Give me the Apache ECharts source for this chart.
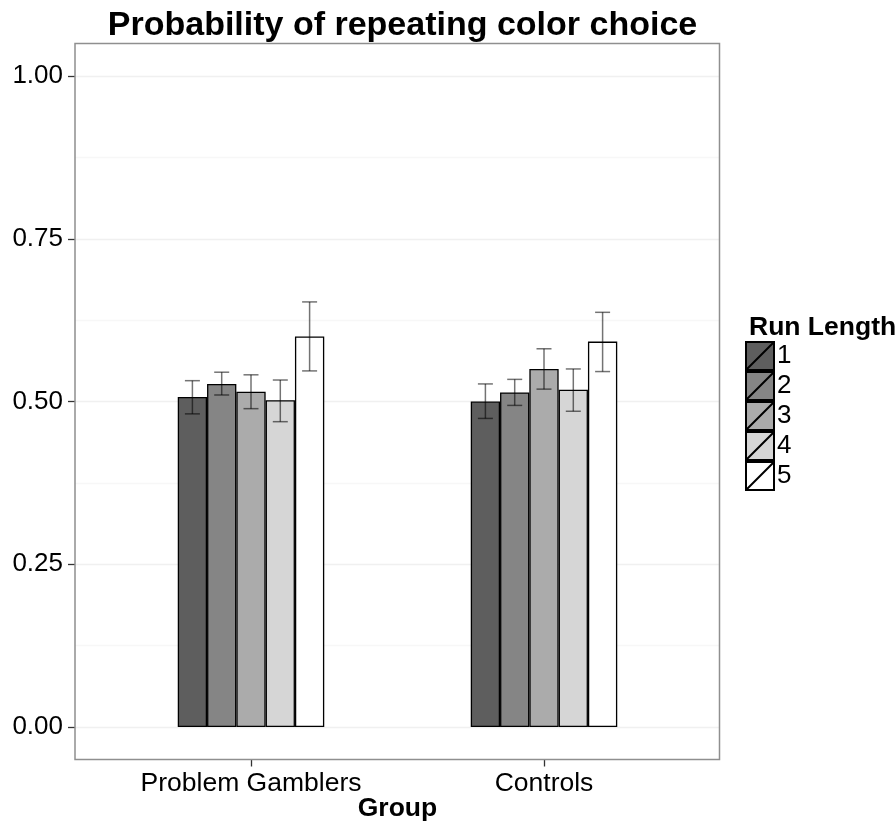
<!DOCTYPE html>
<html><head><meta charset="utf-8">
<script src="https://cdn.jsdelivr.net/npm/echarts@6/dist/echarts.min.js"></script>
<style>html,body{margin:0;padding:0;background:#fff}#c{width:896px;height:823px}</style>
</head><body><div id="c"></div>
<script>
var groups = ['Problem Gamblers', 'Controls'];
var runLengths = ['1', '2', '3', '4', '5'];
var yTicks = [0, 0.25, 0.5, 0.75, 1];
// mean probability per run length: [Problem Gamblers, Controls]
var rl1 = [0.507, 0.500];
var rl2 = [0.527, 0.514];
var rl3 = [0.515, 0.550];
var rl4 = [0.502, 0.518];
var rl5 = [0.600, 0.592];
// error bar lower / upper
var rl1Lo = [0.481, 0.474], rl1Hi = [0.532, 0.527];
var rl2Lo = [0.510, 0.494], rl2Hi = [0.545, 0.534];
var rl3Lo = [0.489, 0.519], rl3Hi = [0.541, 0.581];
var rl4Lo = [0.469, 0.485], rl4Hi = [0.533, 0.550];
var rl5Lo = [0.547, 0.546], rl5Hi = [0.653, 0.637];

var means = [rl1, rl2, rl3, rl4, rl5];
var los = [rl1Lo, rl2Lo, rl3Lo, rl4Lo, rl5Lo];
var his = [rl1Hi, rl2Hi, rl3Hi, rl4Hi, rl5Hi];
var fills = ['#5e5e5e', '#858585', '#ababab', '#d6d6d6', '#ffffff'];
var FONT = 'Liberation Sans, Arial, Helvetica, sans-serif';

var errData = [];
for (var k = 0; k < runLengths.length; k++) {
  for (var g = 0; g < groups.length; g++) {
    errData.push([g, k, los[k][g], his[k][g]]);
  }
}

var series = runLengths.map(function (name, k) {
  return {
    name: name, type: 'bar', xAxisIndex: 0, yAxisIndex: 0,
    data: means[k], barWidth: '10%', barGap: '0%',
    itemStyle: { color: fills[k], borderColor: '#000', borderWidth: 1.3 },
    emphasis: { disabled: true }, z: 3
  };
});
series.push({
  type: 'custom', xAxisIndex: 0, yAxisIndex: 0, z: 5,
  data: errData,
  encode: { x: 0, y: [2, 3] },
  renderItem: function (params, api) {
    var g = api.value(0), k = api.value(1);
    var top = api.coord([g, api.value(3)]);
    var bot = api.coord([g, api.value(2)]);
    var band = api.size([1, 0])[0];
    var bw = band * 0.1;
    var x = top[0] + (k - 2) * bw;
    var hw = 7.5;
    var st = { stroke: 'rgba(0,0,0,0.55)', lineWidth: 1.5, fill: null };
    return { type: 'group', children: [
      { type: 'line', shape: { x1: x, y1: top[1], x2: x, y2: bot[1] }, style: st },
      { type: 'line', shape: { x1: x - hw, y1: top[1], x2: x + hw, y2: top[1] }, style: st },
      { type: 'line', shape: { x1: x - hw, y1: bot[1], x2: x + hw, y2: bot[1] }, style: st }
    ]};
  }
});
series.push({ type: 'line', xAxisIndex: 1, yAxisIndex: 1, data: [], silent: true });

var chart = echarts.init(document.getElementById('c'), null, { renderer: 'canvas' });
chart.setOption({
  animation: false,
  backgroundColor: '#fff',
  title: [
    { text: 'Probability of repeating color choice', left: 397.5, textAlign: 'center', top: 4,
      textStyle: { fontFamily: FONT, fontSize: 34, fontWeight: 'bold', color: '#000' } },
    { text: 'Run Length', left: 744, top: 309,
      textStyle: { fontFamily: FONT, fontSize: 26.5, fontWeight: 'bold', color: '#000' } },
    { text: 'Group', left: 397.5, textAlign: 'center', top: 795, padding: 0,
      textStyle: { fontFamily: FONT, fontSize: 26.5, fontWeight: 'bold', color: '#000' } }
  ],
  legend: {
    data: runLengths, orient: 'vertical', left: 745, top: 341,
    itemWidth: 28, itemHeight: 29.4, itemGap: 0, padding: 0,
    icon: 'path://M0,0 L10,0 L10,10 L0,10 Z M0,10 L10,0',
    textStyle: { fontFamily: FONT, fontSize: 26, color: '#000', padding: [0, 0, 0, -2] },
    selectedMode: false
  },
  graphic: [{
    type: 'rect', shape: { x: 75, y: 43.5, width: 644.5, height: 716 }, z: 10, silent: true,
    style: { fill: null, stroke: '#8f8f8f', lineWidth: 1.5 }
  }],
  grid: [
    { left: 104.5, right: 205.5, top: 43.5, bottom: 63.5, outerBoundsMode: 'none', containLabel: false },
    { left: 75, right: 176.5, top: 76, bottom: 96, outerBoundsMode: 'none', containLabel: false }
  ],
  xAxis: [
    { type: 'category', gridIndex: 0, data: groups, position: 'bottom',
      axisLine: { show: false, onZero: false },
      axisTick: { show: true, alignWithLabel: true, length: 7, lineStyle: { color: '#333', width: 1.3 } },
      axisLabel: { fontFamily: FONT, fontSize: 26.5, color: '#000', margin: 11 },
      splitLine: { show: false } },
    { type: 'value', gridIndex: 1, min: 0, max: 1, show: false }
  ],
  yAxis: [
    { type: 'value', gridIndex: 0, min: -0.05, max: 1.05, show: false },
    { type: 'value', gridIndex: 1, min: 0, max: 1, interval: 0.25,
      axisLine: { show: false },
      axisTick: { show: true, length: 7, lineStyle: { color: '#333', width: 1.3 } },
      axisLabel: { fontFamily: FONT, fontSize: 26, color: '#000', margin: 12,
        formatter: function (v) { return v.toFixed(2); } },
      splitLine: { show: true, lineStyle: { color: '#f0f0f0', width: 1.3 } },
      minorTick: { show: false, splitNumber: 2 },
      minorSplitLine: { show: true, lineStyle: { color: '#f7f7f7', width: 1.3 } } }
  ],
  series: series
});
</script></body></html>
